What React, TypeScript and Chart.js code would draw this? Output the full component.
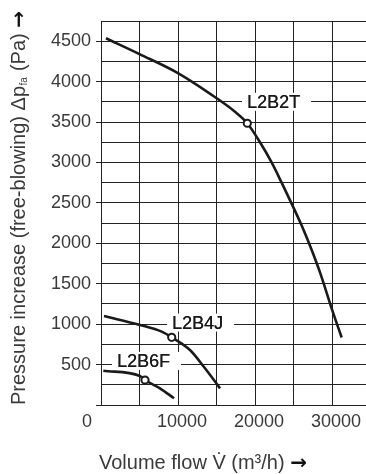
import React, { useEffect, useRef } from 'react';
import { Chart, registerables } from 'chart.js';

Chart.register(...registerables);

// ---- data ----
const L2B2T_FLOW = [650, 5060, 10040, 15020, 17390, 18990, 20640, 22150, 23450, 24850, 26050, 27300, 28430, 29940, 31240];
const L2B2T_PRESSURE = [4536, 4338, 4103, 3794, 3628, 3485, 3250, 3000, 2750, 2470, 2220, 1930, 1640, 1196, 835];
const L2B4J_FLOW = [390, 5060, 7880, 9180, 11550, 13500, 15450];
const L2B4J_PRESSURE = [1101, 990, 907, 837, 680, 454, 206];
const L2B6F_FLOW = [300, 5060, 5710, 7660, 9480];
const L2B6F_PRESSURE = [424, 359, 309, 206, 83];

const MARKER_NAMES = ['L2B2T', 'L2B4J', 'L2B6F'];
const MARKER_FLOW = [18990, 9180, 5710];
const MARKER_PRESSURE = [3485, 837, 309];

// label anchors (data coordinates of the text start)
const LABEL_FLOW = [18950, 9220, 2080];
const LABEL_PRESSURE = [3750, 1020, 545];

const X_TICKS = [0, 5000, 10000, 15000, 20000, 25000, 30000];
const X_LABELED = [10000, 20000, 30000];
const Y_TICKS = [0, 250, 500, 750, 1000, 1250, 1500, 1750, 2000, 2250, 2500, 2750, 3000, 3250, 3500, 3750, 4000, 4250, 4500, 4750];
const Y_LABELED = [500, 1000, 1500, 2000, 2500, 3000, 3500, 4000, 4500];

const X_TITLE = 'Volume flow V\u0307 (m\u00B3/h)';
const Y_TITLE_MAIN = 'Pressure increase (free-blowing) \u0394p';
const Y_TITLE_SUB = 'fa';
const Y_TITLE_TAIL = ' (Pa)';
const ORIGIN_LABEL = '0';

const GRID = '#222';
const TEXT = '#3a3a3a';
const CURVE = '#1a1a1a';
const FONT_FAMILY = '"Liberation Sans", Arial, Helvetica, sans-serif';

const toPts = (xs: number[], ys: number[]) => xs.map((x, i) => ({ x, y: ys[i] }));

const decorPlugin = {
  id: 'decor',
  beforeDatasetsDraw(chart: any) {
    const { ctx, scales } = chart;
    ctx.save();
    ctx.font = `18px ${FONT_FAMILY}`;
    ctx.textBaseline = 'middle';
    ctx.textAlign = 'left';
    MARKER_NAMES.forEach((name, i) => {
      const px = scales.x.getPixelForValue(LABEL_FLOW[i]);
      const py = scales.y.getPixelForValue(LABEL_PRESSURE[i]);
      const w = ctx.measureText(name).width;
      ctx.fillStyle = '#fff';
      ctx.fillRect(px - 5, py - 9, w + 16, 18);
      ctx.fillStyle = '#1a1a1a';
      ctx.fillText(name, px, py + 1);
      ctx.fillText(name, px + 0.3, py + 1);
    });
    ctx.restore();
  },
  afterDraw(chart: any) {
    const { ctx, scales, chartArea } = chart;
    ctx.save();
    ctx.fillStyle = TEXT;
    // origin label
    ctx.font = `18px ${FONT_FAMILY}`;
    ctx.textAlign = 'center';
    ctx.textBaseline = 'middle';
    ctx.fillText(ORIGIN_LABEL, scales.x.left - 14, chartArea.bottom + 17);

    // x title
    ctx.textAlign = 'left';
    ctx.textBaseline = 'alphabetic';
    ctx.font = `20px ${FONT_FAMILY}`;
    const xStart = 99;
    const xBase = 469;
    ctx.fillText(X_TITLE, xStart, xBase);
    const xw = ctx.measureText(X_TITLE + ' ').width;
    ctx.fillStyle = '#111';
    ctx.font = `bold 20px "DejaVu Sans", sans-serif`;
    ctx.fillText('\u2192', xStart + xw, xBase);

    // y title
    ctx.fillStyle = TEXT;
    ctx.translate(25, 405);
    ctx.rotate(-Math.PI / 2);
    ctx.font = `20px ${FONT_FAMILY}`;
    let cx = 0;
    ctx.fillText(Y_TITLE_MAIN, cx, 0);
    cx += ctx.measureText(Y_TITLE_MAIN).width;
    ctx.font = `10px ${FONT_FAMILY}`;
    ctx.fillText(Y_TITLE_SUB, cx + 0.5, 2);
    cx += ctx.measureText(Y_TITLE_SUB).width + 1;
    ctx.font = `20px ${FONT_FAMILY}`;
    ctx.fillText(Y_TITLE_TAIL + ' ', cx, 0);
    cx += ctx.measureText(Y_TITLE_TAIL + ' ').width;
    ctx.fillStyle = '#111';
    ctx.font = `bold 20px "DejaVu Sans", sans-serif`;
    ctx.fillText('\u2192', cx, 0);
    ctx.restore();
  },
};

export default function App() {
  const ref = useRef<HTMLCanvasElement>(null);
  useEffect(() => {
    const canvas = ref.current;
    if (!canvas) return;
    const lineDs = (data: any[]) => ({
      data,
      showLine: true,
      borderColor: CURVE,
      borderWidth: 2.6,
      pointRadius: 0,
      cubicInterpolationMode: 'monotone',
      fill: false,
      order: 2,
    });
    const chart = new Chart(canvas, {
      type: 'scatter',
      data: {
        datasets: [
          {
            data: toPts(MARKER_FLOW, MARKER_PRESSURE),
            showLine: false,
            pointRadius: 3.6,
            pointBorderWidth: 2,
            pointBorderColor: CURVE,
            pointBackgroundColor: '#fff',
            order: 1,
          } as any,
          lineDs(toPts(L2B2T_FLOW, L2B2T_PRESSURE)),
          lineDs(toPts(L2B4J_FLOW, L2B4J_PRESSURE)),
          lineDs(toPts(L2B6F_FLOW, L2B6F_PRESSURE)),
        ],
      },
      options: {
        responsive: false,
        animation: false,
        devicePixelRatio: 1,
        layout: { autoPadding: false, padding: { top: 21, left: 0, right: 0, bottom: 0 } },
        plugins: { legend: { display: false }, tooltip: { enabled: false } },
        scales: {
          x: {
            type: 'linear',
            min: 0,
            max: 34400,
            afterBuildTicks: (s: any) => {
              s.ticks = X_TICKS.map((v) => ({ value: v }));
            },
            afterFit: (s: any) => {
              s.height = 69;
              s.paddingLeft = 0;
              s.paddingRight = 0;
            },
            grid: { color: GRID, lineWidth: 1, drawTicks: false },
            border: { display: true, color: GRID, width: 1 },
            ticks: {
              padding: 6,
              labelOffset: 4,
              maxRotation: 0,
              autoSkip: false,
              color: TEXT,
              font: { family: FONT_FAMILY, size: 18 },
              callback: (v: any) => (X_LABELED.includes(Number(v)) ? String(v) : ''),
            },
          },
          y: {
            type: 'linear',
            min: 0,
            max: 4750,
            afterBuildTicks: (s: any) => {
              s.ticks = Y_TICKS.map((v) => ({ value: v }));
            },
            afterFit: (s: any) => {
              s.width = 101;
              s.paddingTop = 0;
              s.paddingBottom = 0;
            },
            grid: {
              color: GRID,
              lineWidth: 1,
              tickLength: 5,
              tickColor: (c: any) =>
                c.tick && (Y_LABELED.includes(c.tick.value) || c.tick.value === 0) ? GRID : 'rgba(0,0,0,0)',
            },
            border: { display: true, color: GRID, width: 1 },
            ticks: {
              padding: 5,
              autoSkip: false,
              color: TEXT,
              font: { family: FONT_FAMILY, size: 18 },
              callback: (v: any) => (Y_LABELED.includes(Number(v)) ? String(v) : ''),
            },
          },
        },
      },
      plugins: [decorPlugin],
    } as any);
    return () => chart.destroy();
  }, []);
  return (
    <div style={{ position: 'absolute', left: 0, top: 0, width: 366, height: 474, background: '#fff' }}>
      <canvas ref={ref} width={366} height={474} style={{ display: 'block', width: 366, height: 474 }} />
    </div>
  );
}
